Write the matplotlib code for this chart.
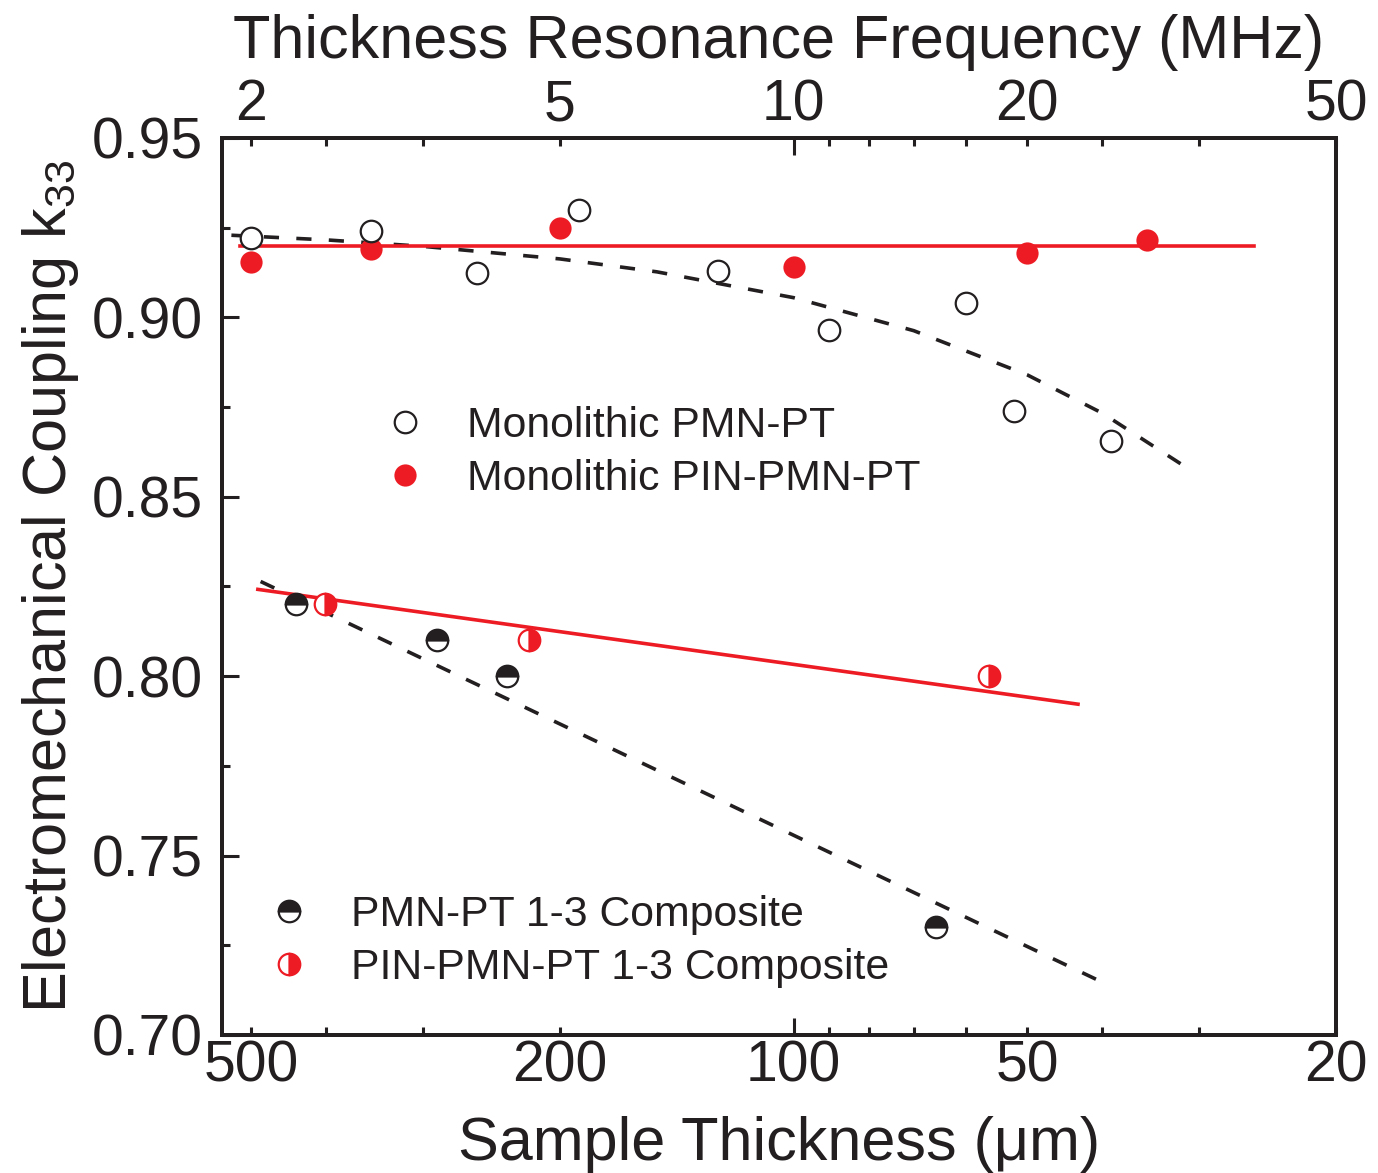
import numpy as np
import matplotlib
matplotlib.use("Agg")
import matplotlib.pyplot as plt
from matplotlib.ticker import FixedLocator, FuncFormatter, MultipleLocator, FormatStrFormatter
from matplotlib.lines import Line2D

plt.rcParams["font.family"] = ["Liberation Sans", "DejaVu Sans"]
plt.rcParams["mathtext.fontset"] = "custom"
plt.rcParams["mathtext.rm"] = "Liberation Sans"

INK, RED = "#231f20", "#ed1c24"

# monolithic PMN-PT (open circles)
mono_pmn_t = [500, 350, 256, 189, 125, 90, 60, 52, 39]
mono_pmn_k = [0.922, 0.924, 0.9125, 0.930, 0.913, 0.8965, 0.904, 0.874, 0.8655]
# monolithic PIN-PMN-PT (filled red)
mono_pin_t = [500, 350, 200, 100, 50, 35]
mono_pin_k = [0.9155, 0.919, 0.925, 0.914, 0.918, 0.9215]
# 1-3 composites
comp_pmn_t = [438, 288, 234, 65.6]
comp_pmn_k = [0.82, 0.81, 0.80, 0.73]
comp_pin_t = [402, 219, 56]
comp_pin_k = [0.82, 0.81, 0.80]

# guide lines
fit_mono_pin_t = [516, 25.5]
fit_mono_pin_k = [0.920, 0.920]
fit_mono_pmn_t = [530, 400, 300, 200, 150, 100, 70, 50, 40, 31.5]
fit_mono_pmn_k = [0.9229, 0.9216, 0.9198, 0.9163, 0.9127, 0.9055, 0.8963, 0.884, 0.8733, 0.8588]
fit_comp_pin_t = [490, 43]
fit_comp_pin_k = [0.8242, 0.7922]
fit_comp_pmn_t = [486, 40]
fit_comp_pmn_k = [0.8264, 0.7147]

W, H = 1378, 1173
fig = plt.figure(figsize=(W / 100, H / 100), dpi=100)
ax = fig.add_axes([222 / W, 1 - 1035 / H, 1114 / W, 897 / H])

DASH = dict(color=INK, lw=2.6, ls=(0, (4.2, 4.8)))
ax.plot(fit_mono_pmn_t, fit_mono_pmn_k, zorder=2, **DASH)
ax.plot(fit_comp_pmn_t, fit_comp_pmn_k, zorder=2, **DASH)
ax.plot(fit_mono_pin_t, fit_mono_pin_k, color=RED, lw=2.6, zorder=2)
ax.plot(fit_comp_pin_t, fit_comp_pin_k, color=RED, lw=2.6, zorder=2)

MS, MEW = 15.5, 1.6
st_open = dict(ls="none", marker="o", ms=MS, mew=MEW, mfc="white", mec=INK)
st_red = dict(ls="none", marker="o", ms=MS + 0.5, mew=0, mfc=RED, mec=RED)
st_cpmn = dict(ls="none", marker="o", ms=MS, mew=MEW, mec=INK, mfc=INK,
               fillstyle="top", markerfacecoloralt="white")
st_cpin = dict(ls="none", marker="o", ms=MS, mew=MEW, mec=RED, mfc=RED,
               fillstyle="right", markerfacecoloralt="white")

ax.plot(mono_pin_t, mono_pin_k, zorder=3, **st_red)
ax.plot(mono_pmn_t, mono_pmn_k, zorder=4, **st_open)
ax.plot(comp_pmn_t, comp_pmn_k, zorder=4, **st_cpmn)
ax.plot(comp_pin_t, comp_pin_k, zorder=4, **st_cpin)

ax.set_xscale("log")
ax.set_xlim(545, 20)
ax.set_ylim(0.70, 0.95)

minor_t = [500, 400, 300, 200, 90, 80, 70, 60, 50, 40, 30, 20]
shown_t = {500, 200, 50, 20}
ax.xaxis.set_major_locator(FixedLocator([100]))
ax.xaxis.set_minor_locator(FixedLocator(minor_t))
ax.xaxis.set_major_formatter(FuncFormatter(lambda v, p: f"{v:g}"))
ax.xaxis.set_minor_formatter(FuncFormatter(lambda v, p: f"{v:g}" if round(v) in shown_t else ""))
ax.yaxis.set_major_locator(MultipleLocator(0.05))
ax.yaxis.set_minor_locator(MultipleLocator(0.025))
ax.yaxis.set_major_formatter(FormatStrFormatter("%.2f"))

TICK_FS = 41
ax.tick_params(which="both", direction="in", top=False, right=False, width=2.2,
               color=INK, labelcolor=INK, labelsize=TICK_FS)
ax.tick_params(which="major", length=12)
ax.tick_params(which="minor", length=5.5)
ax.tick_params(axis="x", which="both", pad=3)
ax.tick_params(axis="y", which="both", pad=14)

# top axis: resonance frequency, f = 1000 / t
ax2 = ax.twiny()
ax2.set_xscale("log")
ax2.set_xlim(ax.get_xlim())
ax2.xaxis.set_major_locator(FixedLocator([100]))
ax2.xaxis.set_minor_locator(FixedLocator(minor_t))
ax2.xaxis.set_major_formatter(FuncFormatter(lambda v, p: f"{1000 / v:g}"))
ax2.xaxis.set_minor_formatter(FuncFormatter(lambda v, p: f"{1000 / v:g}" if round(v) in shown_t else ""))
ax2.tick_params(which="both", direction="in", width=2.2, color=INK, labelcolor=INK,
                labelsize=TICK_FS, pad=4)
ax2.tick_params(which="major", length=12)
ax2.tick_params(which="minor", length=5.5)

for a in (ax, ax2):
    for s in a.spines.values():
        s.set_linewidth(2.8)
        s.set_color(INK)

LAB_FS = 44
ax.set_xlabel("Sample Thickness (μm)", fontsize=LAB_FS, color=INK, va="center")
ax.xaxis.set_label_coords(0.5, -0.122)
ax2.set_xlabel("Thickness Resonance Frequency (MHz)", fontsize=LAB_FS, color=INK, va="center")
ax2.xaxis.set_label_coords(0.5, 1.106)
ax.set_ylabel(r"Electromechanical Coupling k$_{\mathrm{33}}$", fontsize=LAB_FS, color=INK,
              va="center")
ax.yaxis.set_label_coords(-0.154, 0.5)

LEG_FS = 30.8
leg_kw = dict(frameon=False, fontsize=LEG_FS, handlelength=1.0, handletextpad=0.95,
              borderpad=0, borderaxespad=0, labelspacing=0.29, loc="center left",
              labelcolor=INK)
hoff = 0.5 * LEG_FS * 100 / 72 / 1114
h1 = [Line2D([], [], **st_open), Line2D([], [], **st_red)]
leg1 = ax.legend(h1, ["Monolithic PMN-PT", "Monolithic PIN-PMN-PT"],
                 bbox_to_anchor=(0.164 - hoff, 0.6495), **leg_kw)
ax.add_artist(leg1)
h2 = [Line2D([], [], **st_cpmn), Line2D([], [], **st_cpin)]
ax.legend(h2, ["PMN-PT 1-3 Composite", "PIN-PMN-PT 1-3 Composite"],
          bbox_to_anchor=(0.060 - hoff, 0.1042), **leg_kw)

fig.savefig("out.png", dpi=100)
